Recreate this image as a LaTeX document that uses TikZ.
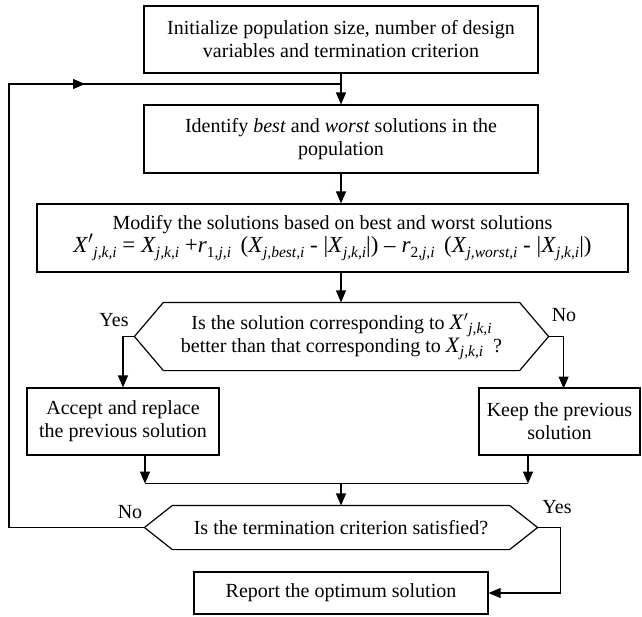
\documentclass[tikz,border=0pt]{standalone}
\usepackage{fontspec}
\setmainfont{Liberation Serif}
\usetikzlibrary{arrows.meta}

\newcommand{\subs}[1]{\raisebox{-0.4ex}{\fontsize{15.5}{15.5}\selectfont #1}}
\newcommand{\xsol}[1]{\textit{X}\subs{\textit{#1}}}
\newcommand{\xnew}[1]{\textit{X}$'$\subs{\textit{#1}}}

\begin{document}
\begin{tikzpicture}[x=1pt,y=-1pt,line width=1.2pt,
    every node/.style={font=\fontsize{20}{23}\selectfont},
    box/.style={draw,align=center,inner sep=0pt},
    cond/.style={align=center,inner sep=0pt},
    flow/.style={-{Triangle[length=12pt,width=10pt]}}]
\useasboundingbox (0,0) rectangle (642,616);
% steps
\node [box,minimum width=394pt,minimum height=67pt] (init) at (341,39.5)
    {Initialize population size, number of design\\ variables and termination criterion};
\node [box,minimum width=394pt,minimum height=68pt] (ident) at (341,139)
    {Identify \textit{best} and \textit{worst} solutions in the\\ population};
\node [box,minimum width=591pt,minimum height=68pt] (modify) at (332.5,238)
    {Modify the solutions based on best and worst solutions\\
     {\fontsize{23}{25}\selectfont \xnew{j,k,i} = \xsol{j,k,i} +\textit{r}\subs{1,\textit{j,i}}\, (\xsol{j,best,i} - |\xsol{j,k,i}|) -- \textit{r}\subs{2,\textit{j,i}}\, (\xsol{j,worst,i} - |\xsol{j,k,i}|)}};
\node [cond,minimum width=355pt,minimum height=67pt] (better) at (341.5,336.5)
    {Is the solution corresponding to {\fontsize{22}{23}\selectfont\xnew{j,k,i}}\\ better than that corresponding to {\fontsize{22}{23}\selectfont\xsol{j,k,i}}\ \ ?};
\node [box,minimum width=192pt,minimum height=67pt] (accept) at (123,421.5)
    {Accept and replace\\ the previous solution};
\node [box,minimum width=161pt,minimum height=67pt] (keep) at (559.5,421.5)
    {Keep the previous\\ solution};
\node [cond,minimum width=336pt,minimum height=43pt] (stop) at (341,527.5)
    {Is the termination criterion satisfied?};
\node [box,minimum width=294pt,minimum height=42pt] (report) at (341,593)
    {Report the optimum solution};
% hexagon outlines
\coordinate (betterL) at ([xshift=-29pt]better.west);
\coordinate (betterR) at ([xshift=29pt]better.east);
\coordinate (stopL) at ([xshift=-28pt]stop.west);
\coordinate (stopR) at ([xshift=28pt]stop.east);
\draw (better.north west) -- (better.north east) -- (betterR) -- (better.south east)
    -- (better.south west) -- (betterL) -- cycle;
\draw (stop.north west) -- (stop.north east) -- (stopR) -- (stop.south east)
    -- (stop.south west) -- (stopL) -- cycle;
% connectors
\coordinate (loop) at (9,84);
\coordinate (merge) at (341,483);
\draw [flow] (init) -- (ident);
\draw [flow] (ident.south) -- (ident.south |- modify.north);
\draw [flow] (ident.south |- modify.south) -- (better.north -| ident.south);
\draw [flow] (betterL) -- (betterL -| accept.north) -- (accept.north);
\draw [flow] (betterR) -- ++(15,0) -- ++(0,52);
\draw [flow] ([xshift=22pt]accept.south) -- ++(0,28);
\draw [flow] ([xshift=-31.5pt]keep.south) -- ++(0,28);
\draw ([xshift=22pt]accept.south) ++(0,28) -- ++(383,0);
\draw [flow] (merge) -- (stop.north);
\draw (stopL) -- (stopL -| loop) -- (loop) -- (loop -| init.south);
\draw [flow] (loop) -- ++(76,0);
\draw [flow] (stopR) -- ++(23,0) |- (report.east);
% labels
\node (yes1) at (114,320) {Yes};
\node (no1) at (564,315) {No};
\node (no2) at (130,512) {No};
\node (yes2) at (557,507) {Yes};
\end{tikzpicture}
\end{document}
